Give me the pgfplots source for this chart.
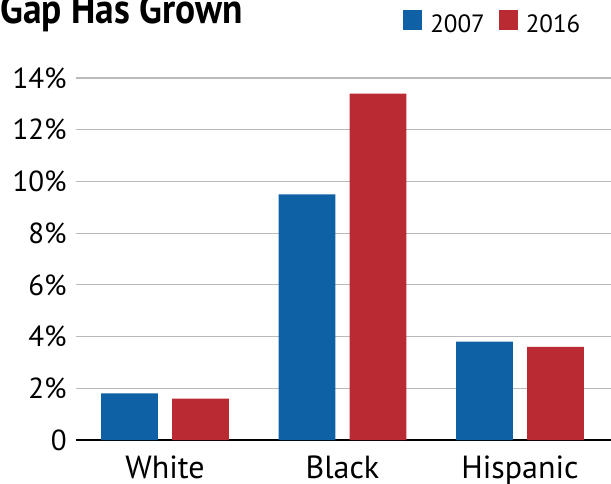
\documentclass[border=0pt]{standalone}
\usepackage{graphicx}
\usepackage{pgfplots}
\pgfplotsset{compat=1.18}
\usepackage{fontspec}
\setmainfont{PT Sans}
\definecolor{cblue}{HTML}{0F61A6}
\definecolor{cred}{HTML}{BA2A33}
\begin{document}
\begin{tikzpicture}[x=0.5pt,y=0.5pt]
\useasboundingbox (0,0) rectangle (611,483);
\clip (0,0) rectangle (611,483);
\node[anchor=base west, inner sep=0pt, font=\bfseries\fontsize{21}{21}\selectfont] at (0,459) {\scalebox{0.89}[1]{Gap Has Grown}};
\begin{axis}[
  at={(38pt,21.5pt)}, anchor=south west,
  scale only axis, width=267.5pt, height=181pt,
  xmin=-0.501, xmax=2.513, ymin=0, ymax=14,
  axis x line*=bottom, axis y line*=left,
  x axis line style={black, line width=1pt, -},
  y axis line style={draw=none},
  ymajorgrids, grid style={color=black!27, line width=0.6pt},
  ytick={0,2,4,6,8,10,12,14},
  yticklabels={0,2\%,4\%,6\%,8\%,10\%,12\%,14\%},
  xtick={0,1,2}, xticklabels={White,Black,Hispanic},
  major tick length=0pt,
  /pgf/number format/assume math mode=true,
  yticklabel style={font=\fontsize{14.5}{14.5}\selectfont, anchor=east, inner sep=0pt, xshift=-4.5pt},
  xticklabel style={font=\fontsize{16}{16}\selectfont, anchor=north, inner sep=0pt, yshift=-7.5pt},
  ybar, bar width=0.32,
  legend style={at={(axis description cs:0.611,1.19)}, anchor=north west, draw=none, fill=none, inner sep=0pt,
     legend columns=2, font=\fontsize{12.5}{12.5}\selectfont,
     nodes={inner sep=0pt, text depth=0pt},
     /tikz/every odd column/.append style={column sep=4pt},
     /tikz/every even column/.append style={column sep=7pt}},
  legend image code/.code={\fill[#1] (0pt,-3.2pt) rectangle (9.5pt,6.8pt);},
  clip=false,
]
\addplot[fill=cblue, draw=none, bar shift=-0.2] coordinates {(0,1.8) (1,9.5) (2,3.8)};
\addplot[fill=cred, draw=none, bar shift=0.2] coordinates {(0,1.6) (1,13.4) (2,3.6)};
\legend{2007,2016}
\end{axis}
\end{tikzpicture}
\end{document}
